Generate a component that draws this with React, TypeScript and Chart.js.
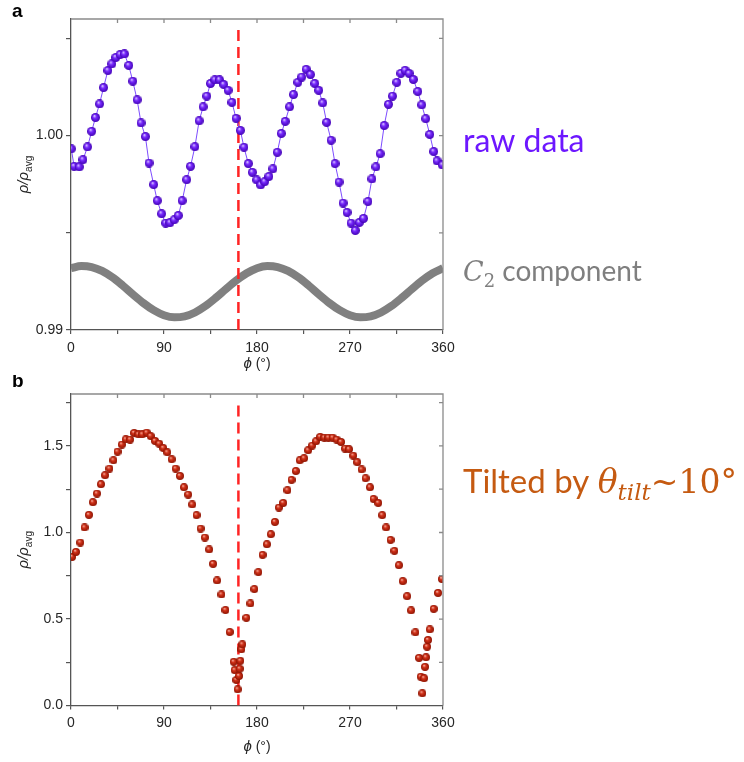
import React, { useEffect, useRef } from 'react';
import { Chart, registerables } from 'chart.js';

Chart.register(...registerables);

// ---------- data (panel a) ----------
const RAW_PHI = [0.3, 3, 8, 11.6, 16, 20, 23.7, 27.6, 31.5, 35.7, 39.5, 43.4, 47.5, 51.7, 55.9, 59.8, 64, 67.8, 72, 75.5, 80, 83.5, 87.7, 91.6, 95.8, 99.9, 103.8, 107.6, 111.9, 115.7, 119.9, 124, 127.9, 131.4, 135, 139.2, 143.7, 147.8, 152, 155.8, 159.7, 163.9, 167.4, 171.6, 175.5, 179.7, 183.5, 187.4, 191.5, 195.4, 199.6, 203.5, 207.3, 211.5, 215.3, 219.5, 223.3, 227.6, 231.7, 235.9, 239.7, 243.6, 247.4, 251.7, 255.5, 259.4, 263.3, 267.1, 271, 275.1, 279, 283.1, 287.4, 291.2, 295.1, 299.2, 303.1, 307.2, 311.1, 315.3, 319.2, 323.3, 327.2, 331.3, 335.6, 339.4, 343.3, 347.2, 351, 354.2, 359.3];
const RAW_RHO = [0.99932, 0.99842, 0.99839, 0.99876, 0.99942, 1.00022, 1.00093, 1.00163, 1.00247, 1.00335, 1.00369, 1.00402, 1.00417, 1.0042, 1.00361, 1.0028, 1.00184, 1.00065, 0.99995, 0.99859, 0.99748, 0.99665, 0.99598, 0.9955, 0.99552, 0.99567, 0.99589, 0.99665, 0.99773, 0.99842, 0.99943, 1.00076, 1.00148, 1.00203, 1.00268, 1.00287, 1.00287, 1.00263, 1.00233, 1.00171, 1.00089, 1.00027, 0.9994, 0.99856, 0.99811, 0.99772, 0.99746, 0.99763, 0.9979, 0.99829, 0.99914, 1.00011, 1.00073, 1.00148, 1.00211, 1.00274, 1.00301, 1.00341, 1.00314, 1.00268, 1.00233, 1.00168, 1.00068, 0.99976, 0.99856, 0.99761, 0.99653, 0.99605, 0.9955, 0.99512, 0.99553, 0.99574, 0.99661, 0.99777, 0.99839, 0.99907, 1.00052, 1.00161, 1.00203, 1.00274, 1.0032, 1.00336, 1.0032, 1.00289, 1.00227, 1.00158, 1.00087, 1.00006, 0.99918, 0.9987, 0.99849];

const C2_PHI = [0, 10, 20, 30, 40, 50, 60, 70, 80, 90, 100, 110, 120, 130, 140, 150, 160, 170, 180, 190, 200, 210, 220, 230, 240, 250, 260, 270, 280, 290, 300, 310, 320, 330, 340, 350, 360];
const C2_RHO = [0.99318, 0.99329, 0.99324, 0.99304, 0.99271, 0.99229, 0.99183, 0.99139, 0.99102, 0.99076, 0.99065, 0.9907, 0.9909, 0.99123, 0.99165, 0.99211, 0.99255, 0.99292, 0.99318, 0.99329, 0.99324, 0.99304, 0.99271, 0.99229, 0.99183, 0.99139, 0.99102, 0.99076, 0.99065, 0.9907, 0.9909, 0.99123, 0.99165, 0.99211, 0.99255, 0.99292, 0.99318];

// ---------- data (panel b) ----------
const TILT_PHI = [1, 4.8, 9, 13.1, 17.3, 21.2, 25.1, 29, 33, 37.2, 41.1, 45, 49.2, 53, 57.2, 61.1, 65.2, 69, 73.3, 77.1, 81.3, 85.4, 89.3, 93.2, 97.4, 101.3, 105.4, 109.3, 113.4, 117.3, 121.5, 125.4, 129.5, 133.7, 137.5, 141.4, 145.6, 149.5, 153.6, 157.5, 158.4, 160, 161.3, 162.6, 163.3, 163.9, 164.9, 165.8, 169.7, 173.6, 177.4, 181.3, 185.4, 189.6, 193.4, 197.3, 201.2, 205.4, 209.5, 213.4, 217.6, 221.4, 225.6, 229.5, 233.4, 237.2, 241.1, 245.2, 249.1, 253.2, 257.1, 261.3, 265.2, 269, 273.2, 277, 281.2, 285.1, 289.3, 292.8, 297.3, 301.2, 305, 309.2, 313, 317.3, 321.1, 325.3, 329.1, 333.3, 336.8, 338.5, 340, 341.7, 342.6, 343.6, 344.6, 345.5, 347.2, 351, 355.2, 359];
const TILT_RHO = [0.859, 0.888, 0.942, 1.029, 1.102, 1.175, 1.225, 1.279, 1.331, 1.369, 1.417, 1.467, 1.508, 1.538, 1.537, 1.575, 1.567, 1.567, 1.577, 1.557, 1.529, 1.513, 1.488, 1.463, 1.423, 1.369, 1.327, 1.261, 1.219, 1.162, 1.1, 1.023, 0.971, 0.902, 0.819, 0.723, 0.642, 0.552, 0.425, 0.253, 0.205, 0.148, 0.094, 0.171, 0.213, 0.259, 0.325, 0.354, 0.507, 0.59, 0.673, 0.771, 0.871, 0.932, 0.99, 1.061, 1.144, 1.171, 1.244, 1.304, 1.355, 1.417, 1.429, 1.475, 1.502, 1.527, 1.552, 1.548, 1.548, 1.548, 1.537, 1.523, 1.485, 1.481, 1.444, 1.406, 1.364, 1.313, 1.261, 1.194, 1.171, 1.1, 1.029, 0.957, 0.894, 0.811, 0.719, 0.632, 0.55, 0.423, 0.276, 0.167, 0.071, 0.158, 0.224, 0.279, 0.34, 0.379, 0.44, 0.559, 0.651, 0.731];

// marker line (phi position of the dashed line) and its vertical extent in each panel
const MARK_PHI = 162;
const MARK_A = [0.99, 1.0056];
const MARK_B = [0, 1.752];

// ---------- ticks ----------
const X_TICKS = [0, 45, 90, 135, 180, 225, 270, 315, 360];
const X_LABELS = ['0', '', '90', '', '180', '', '270', '', '360'];
const YA_TICKS = [0.99, 0.995, 1.0, 1.005];
const YA_LABELS = ['0.99', '', '1.00', ''];
const YB_TICKS = [0, 0.25, 0.5, 0.75, 1.0, 1.25, 1.5, 1.75];
const YB_LABELS = ['0.0', '', '0.5', '', '1.0', '', '1.5', ''];

const TXT = '#262626';
const AXIS = '#555';
const SANS = '"Liberation Sans", Arial, sans-serif';

type Run = { t: string; font: string; dy?: number; color?: string };

function runsWidth(ctx: CanvasRenderingContext2D, runs: Run[]) {
  let w = 0;
  for (const r of runs) {
    ctx.font = r.font;
    w += ctx.measureText(r.t).width;
  }
  return w;
}

function drawRuns(ctx: CanvasRenderingContext2D, x: number, y: number, runs: Run[], color: string) {
  let cx = x;
  ctx.textBaseline = 'alphabetic';
  ctx.textAlign = 'left';
  for (const r of runs) {
    ctx.font = r.font;
    ctx.fillStyle = r.color || color;
    ctx.fillText(r.t, cx, y + (r.dy || 0));
    cx += ctx.measureText(r.t).width;
  }
}

function makeSphere(d: number, light: string, mid: string, dark: string) {
  const c = document.createElement('canvas');
  c.width = d;
  c.height = d;
  const g = c.getContext('2d')!;
  const r = d / 2;
  const grad = g.createRadialGradient(r * 0.72, r * 0.6, 0, r, r, r);
  grad.addColorStop(0, light);
  grad.addColorStop(0.4, mid);
  grad.addColorStop(1, dark);
  g.fillStyle = grad;
  g.beginPath();
  g.arc(r, r, r, 0, Math.PI * 2);
  g.fill();
  return c;
}

type Deco = {
  letter: string;
  letterY: number;
  xTitleY: number;
  notes: { x: number; y: number; color: string; runs: Run[] }[];
};

function makeDecoPlugin(deco: Deco) {
  return {
    id: 'deco',
    afterDraw(chart: any) {
      const ctx: CanvasRenderingContext2D = chart.ctx;
      const { left, right, top, bottom } = chart.chartArea;
      const xs = chart.scales.x;
      const ys = chart.scales.y;
      ctx.save();
      // frame top/right
      ctx.strokeStyle = '#8a8a8a';
      ctx.lineWidth = 1.3;
      ctx.beginPath();
      ctx.moveTo(left, top);
      ctx.lineTo(right, top);
      ctx.lineTo(right, bottom);
      ctx.stroke();
      // mirror ticks
      ctx.beginPath();
      for (const t of xs.ticks) {
        const px = xs.getPixelForValue(t.value);
        if (px <= left + 1 || px >= right - 1) continue;
        ctx.moveTo(px, top);
        ctx.lineTo(px, top + 4);
      }
      for (const t of ys.ticks) {
        const py = ys.getPixelForValue(t.value);
        if (py <= top + 1 || py >= bottom - 1) continue;
        ctx.moveTo(right, py);
        ctx.lineTo(right - 4, py);
      }
      ctx.stroke();

      // y axis title (rotated)
      const yRuns: Run[] = [
        { t: 'ρ/ρ', font: `italic 15px ${SANS}` },
        { t: 'avg', font: `10px ${SANS}`, dy: 4 },
      ];
      const wy = runsWidth(ctx, yRuns);
      ctx.save();
      ctx.translate(28, (top + bottom) / 2);
      ctx.rotate(-Math.PI / 2);
      drawRuns(ctx, -wy / 2, 0, yRuns, TXT);
      ctx.restore();

      // x axis title
      const xRuns: Run[] = [
        { t: 'ϕ', font: `italic 15px ${SANS}` },
        { t: ' (°)', font: `14px ${SANS}` },
      ];
      const wx = runsWidth(ctx, xRuns);
      drawRuns(ctx, (left + right) / 2 - wx / 2, deco.xTitleY, xRuns, TXT);

      // panel letter
      ctx.font = `bold 19px ${SANS}`;
      ctx.fillStyle = '#000';
      ctx.textBaseline = 'alphabetic';
      ctx.fillText(deco.letter, 12, deco.letterY);

      // annotations
      for (const n of deco.notes) drawRuns(ctx, n.x, n.y, n.runs, n.color);
      ctx.restore();
    },
  };
}

function scaleX(labelPad: number, xHeight: number) {
  return {
    type: 'linear',
    min: 0,
    max: 360,
    afterBuildTicks: (s: any) => {
      s.ticks = X_TICKS.map((v) => ({ value: v }));
    },
    afterFit: (s: any) => {
      s.height = xHeight;
    },
    ticks: {
      callback: (v: number) => {
        const i = X_TICKS.indexOf(Math.round(v));
        return i >= 0 ? X_LABELS[i] : '';
      },
      autoSkip: false,
      maxRotation: 0,
      padding: labelPad,
      color: TXT,
      font: { family: SANS, size: 14 },
    },
    grid: { drawOnChartArea: false, drawTicks: true, tickLength: 4, color: AXIS, lineWidth: 1.2 },
    border: { display: true, color: AXIS, width: 1.3 },
  };
}

function scaleY(min: number, max: number, ticks: number[], labels: string[]) {
  return {
    type: 'linear',
    min,
    max,
    afterBuildTicks: (s: any) => {
      s.ticks = ticks.map((v) => ({ value: v }));
    },
    afterFit: (s: any) => {
      s.width = 71;
    },
    ticks: {
      callback: (v: number) => {
        let best = -1;
        for (let i = 0; i < ticks.length; i++) if (Math.abs(ticks[i] - v) < 1e-7) best = i;
        return best >= 0 ? labels[best] : '';
      },
      autoSkip: false,
      padding: 3,
      color: TXT,
      font: { family: SANS, size: 14 },
    },
    grid: { drawOnChartArea: false, drawTicks: true, tickLength: 5, color: AXIS, lineWidth: 1.2 },
    border: { display: true, color: AXIS, width: 1.3 },
  };
}

export default function App() {
  const topRef = useRef<HTMLCanvasElement>(null);
  const botRef = useRef<HTMLCanvasElement>(null);

  useEffect(() => {
    const purple = makeSphere(9, '#ece4ff', '#7a2cff', '#4000b4');
    const red = makeSphere(8, '#ffc8b8', '#d2321a', '#8c1200');

    const chartA = new Chart(topRef.current!, {
      type: 'scatter',
      data: {
        datasets: [
          {
            label: 'raw data',
            data: RAW_PHI.map((x, i) => ({ x, y: RAW_RHO[i] })),
            showLine: true,
            borderColor: '#7d4cff',
            borderWidth: 1,
            pointStyle: purple as any,
            pointRadius: 4.5,
            order: 0,
          },
          {
            label: 'marker',
            data: MARK_A.map((y) => ({ x: MARK_PHI, y })),
            showLine: true,
            borderColor: '#ff2424',
            borderWidth: 2.5,
            borderDash: [11, 6],
            pointRadius: 0,
            order: 1,
          },
          {
            label: 'C2 component',
            data: C2_PHI.map((x, i) => ({ x, y: C2_RHO[i] })),
            showLine: true,
            borderColor: '#808080',
            borderWidth: 8,
            pointRadius: 0,
            cubicInterpolationMode: 'monotone',
            order: 2,
          },
        ],
      } as any,
      options: {
        animation: false,
        responsive: true,
        maintainAspectRatio: false,
        devicePixelRatio: 1,
        layout: { padding: { left: 0, top: 19, right: 301, bottom: 0 } },
        plugins: { legend: { display: false }, tooltip: { enabled: false } },
        scales: {
          x: scaleX(6, 45),
          y: scaleY(0.99, 1.006, YA_TICKS, YA_LABELS),
        } as any,
      },
      plugins: [
        makeDecoPlugin({
          letter: 'a',
          letterY: 17,
          xTitleY: 368,
          notes: [
            { x: 463, y: 152, color: '#6d17ff', runs: [{ t: 'raw data', font: '32px Lato, "Open Sans", sans-serif' }] },
            {
              x: 463,
              y: 281,
              color: '#7f7f7f',
              runs: [
                { t: 'C', font: 'italic 27px "DejaVu Serif", serif' },
                { t: '2', font: '18px "DejaVu Serif", serif', dy: 6 },
                { t: ' component', font: '28px Lato, "Open Sans", sans-serif' },
              ],
            },
          ],
        }),
      ],
    } as any);

    const chartB = new Chart(botRef.current!, {
      type: 'scatter',
      data: {
        datasets: [
          {
            label: 'tilted',
            data: TILT_PHI.map((x, i) => ({ x, y: TILT_RHO[i] })),
            showLine: false,
            pointStyle: red as any,
            pointRadius: 4,
            order: 0,
          },
          {
            label: 'marker',
            data: MARK_B.map((y) => ({ x: MARK_PHI, y })),
            showLine: true,
            borderColor: '#ff2424',
            borderWidth: 2.5,
            borderDash: [11, 6],
            pointRadius: 0,
            order: 1,
          },
        ],
      } as any,
      options: {
        animation: false,
        responsive: true,
        maintainAspectRatio: false,
        devicePixelRatio: 1,
        layout: { padding: { left: 0, top: 19, right: 301, bottom: 0 } },
        plugins: { legend: { display: false }, tooltip: { enabled: false } },
        scales: {
          x: scaleX(5, 56.4),
          y: scaleY(0, 1.8, YB_TICKS, YB_LABELS),
        } as any,
      },
      plugins: [
        makeDecoPlugin({
          letter: 'b',
          letterY: 12,
          xTitleY: 376,
          notes: [
            {
              x: 463,
              y: 118,
              color: '#c55a11',
              runs: [
                { t: 'Tilted by ', font: '33px Lato, "Open Sans", sans-serif' },
                { t: 'θ', font: 'italic 33px "DejaVu Serif", serif' },
                { t: 'tilt', font: 'italic 23px "DejaVu Serif", serif', dy: 7 },
                { t: '~10°', font: '33px "DejaVu Serif", serif' },
              ],
            },
          ],
        }),
      ],
    } as any);

    return () => {
      chartA.destroy();
      chartB.destroy();
    };
  }, []);

  return (
    <div style={{ position: 'absolute', left: 0, top: 0, width: 744, height: 762, background: '#fff' }}>
      <div style={{ position: 'absolute', left: 0, top: 0, width: 744, height: 375 }}>
        <canvas ref={topRef} />
      </div>
      <div style={{ position: 'absolute', left: 0, top: 375, width: 744, height: 387 }}>
        <canvas ref={botRef} />
      </div>
    </div>
  );
}
